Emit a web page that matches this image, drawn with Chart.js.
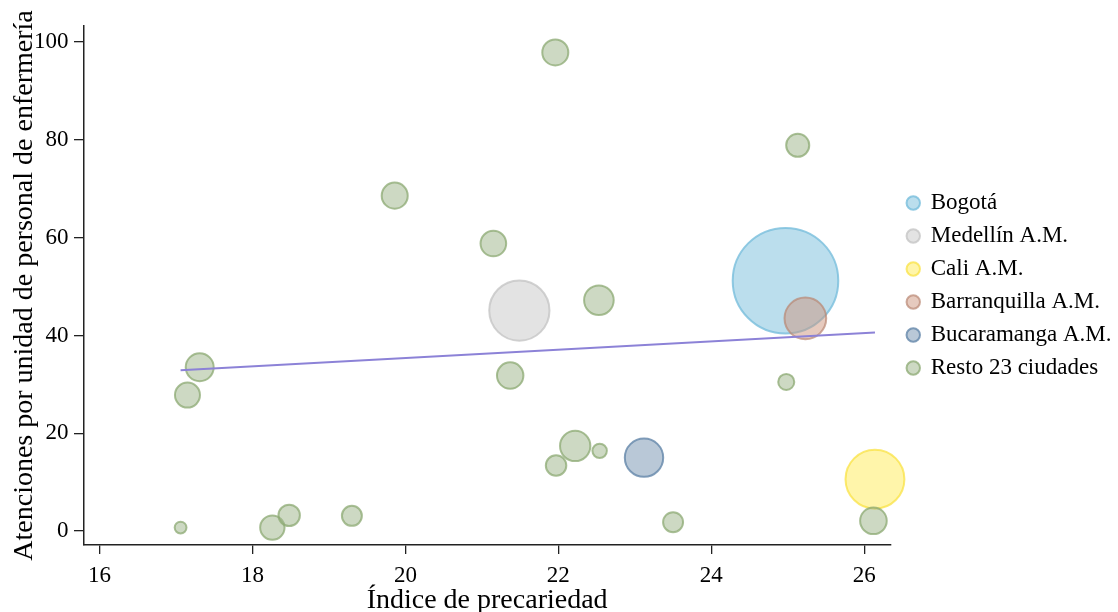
<!DOCTYPE html>
<html lang="es">
<head>
<meta charset="utf-8">
<title>Atenciones vs índice de precariedad</title>
<script src="https://cdn.jsdelivr.net/npm/chart.js@4.4.1/dist/chart.umd.min.js"></script>
<style>
  body { margin: 0; background: #fff; }
  #contenedor { width: 1118px; height: 612px; }
</style>
</head>
<body>
<div id="contenedor"><canvas id="grafico"></canvas></div>
<script>
// Datos: x = índice de precariedad, y = atenciones, peso = tamaño relativo
const bogotaX = [24.97];
const bogotaY = [51.2];
const bogotaPeso = [103];

const medellinX = [21.49];
const medellinY = [45.1];
const medellinPeso = [34.5];

const caliX = [26.14];
const caliY = [10.6];
const caliPeso = [33];

const barranquillaX = [25.23];
const barranquillaY = [43.5];
const barranquillaPeso = [17];

const bucaramangaX = [23.12];
const bucaramangaY = [15.0];
const bucaramangaPeso = [14.5];

const restoX = [21.96, 25.13, 19.86, 21.15, 22.53, 21.37, 17.31, 17.15, 17.06, 18.26, 18.48, 19.30, 22.22, 21.97, 22.54, 23.50, 24.98, 26.12];
const restoY = [97.9, 78.9, 68.6, 58.8, 47.2, 31.8, 33.5, 27.8, 0.7, 0.7, 3.2, 3.1, 17.4, 13.4, 16.4, 1.8, 30.5, 2.1];
const restoPeso = [7.0, 5.6, 7.0, 6.8, 8.9, 7.2, 8.0, 6.5, 1.7, 6.2, 4.9, 4.3, 9.3, 4.5, 2.4, 4.3, 2.9, 7.3];

// Línea de ajuste (extremos)
const tendenciaX = [17.06, 26.14];
const tendenciaY = [32.9, 40.6];

// Marcas de los ejes
const ticksX = [16, 18, 20, 22, 24, 26];
const ticksY = [0, 20, 40, 60, 80, 100];

const fuente = "'Liberation Serif', 'Times New Roman', serif";

// Convierte el peso en radio (área proporcional al peso)
const radio = (peso) => 5.3 * Math.sqrt(peso) - 1;

function armarPuntos(xs, ys, pesos) {
    return xs.map((x, i) => ({ x: x, y: ys[i], r: radio(pesos[i]) }));
}

function serie(nombre, xs, ys, pesos, relleno, borde, orden) {
    return {
        type: 'bubble',
        label: nombre,
        data: armarPuntos(xs, ys, pesos),
        backgroundColor: relleno,
        borderColor: borde,
        borderWidth: 2,
        clip: false,
        order: orden
    };
}

// Corre la leyenda un poco a la derecha
const moverLeyenda = {
    id: 'moverLeyenda',
    afterLayout(chart) {
        if (chart.legend) {
            chart.legend.left += 7;
            chart.legend.right += 7;
        }
    }
};

const ctx = document.getElementById('grafico').getContext('2d');

new Chart(ctx, {
    data: {
        datasets: [
            serie('Bogotá', bogotaX, bogotaY, bogotaPeso, 'rgba(120,190,220,0.5)', 'rgba(120,190,220,0.8)', 6),
            serie('Medellín A.M.', medellinX, medellinY, medellinPeso, 'rgba(200,200,200,0.5)', 'rgba(195,195,195,0.75)', 5),
            serie('Cali A.M.', caliX, caliY, caliPeso, 'rgba(255,235,85,0.5)', 'rgba(250,225,60,0.7)', 4),
            serie('Barranquilla A.M.', barranquillaX, barranquillaY, barranquillaPeso, 'rgba(205,150,125,0.5)', 'rgba(185,135,115,0.7)', 3),
            serie('Bucaramanga A.M.', bucaramangaX, bucaramangaY, bucaramangaPeso, 'rgba(115,145,175,0.5)', 'rgba(100,135,170,0.8)', 2),
            serie('Resto 23 ciudades', restoX, restoY, restoPeso, 'rgba(155,180,135,0.5)', 'rgba(140,170,115,0.75)', 1),
            {
                type: 'line',
                label: 'Ajuste',
                data: tendenciaX.map((x, i) => ({ x: x, y: tendenciaY[i] })),
                borderColor: 'rgb(140,130,215)',
                borderWidth: 2,
                pointRadius: 0,
                fill: false,
                order: 0
            }
        ]
    },
    options: {
        responsive: true,
        maintainAspectRatio: false,
        animation: false,
        layout: {
            autoPadding: false,
            padding: { top: 26, right: 3.5, bottom: 0, left: 0 }
        },
        plugins: {
            tooltip: { enabled: false },
            legend: {
                position: 'right',
                fullSize: false,
                reverse: true,
                labels: {
                    filter: (item) => item.text !== 'Ajuste',
                    usePointStyle: true,
                    pointStyle: 'circle',
                    boxWidth: 12,
                    boxHeight: 9.5,
                    padding: 10,
                    color: '#000',
                    font: { family: fuente, size: 23 }
                }
            }
        },
        scales: {
            x: {
                type: 'linear',
                min: 15.797,
                max: 26.34,
                afterBuildTicks: (escala) => {
                    escala.ticks = ticksX.map(v => ({ value: v }));
                },
                border: { display: true, color: '#222', width: 1.5 },
                grid: { drawOnChartArea: false, drawTicks: true, tickLength: 9, color: '#222', lineWidth: 1.3 },
                ticks: { color: '#000', padding: 10.5, font: { family: fuente, size: 23, lineHeight: 1 } },
                title: {
                    display: true,
                    text: 'Índice de precariedad',
                    color: '#000',
                    padding: { top: 0, bottom: 8 },
                    font: { family: fuente, size: 28, lineHeight: '6px' }
                }
            },
            y: {
                type: 'linear',
                min: -2.86,
                max: 103.3,
                afterBuildTicks: (escala) => {
                    escala.ticks = ticksY.map(v => ({ value: v }));
                },
                border: { display: true, color: '#222', width: 1.5 },
                grid: { drawOnChartArea: false, drawTicks: true, tickLength: 10, color: '#222', lineWidth: 1.3 },
                ticks: { color: '#000', padding: 5.4, font: { family: fuente, size: 23 } },
                title: {
                    display: true,
                    text: 'Atenciones por unidad de personal de enfermería',
                    color: '#000',
                    padding: { top: 21.5, bottom: 1.2 },
                    font: { family: fuente, size: 28, lineHeight: '6px' }
                }
            }
        }
    },
    plugins: [moverLeyenda]
});
</script>
</body>
</html>
